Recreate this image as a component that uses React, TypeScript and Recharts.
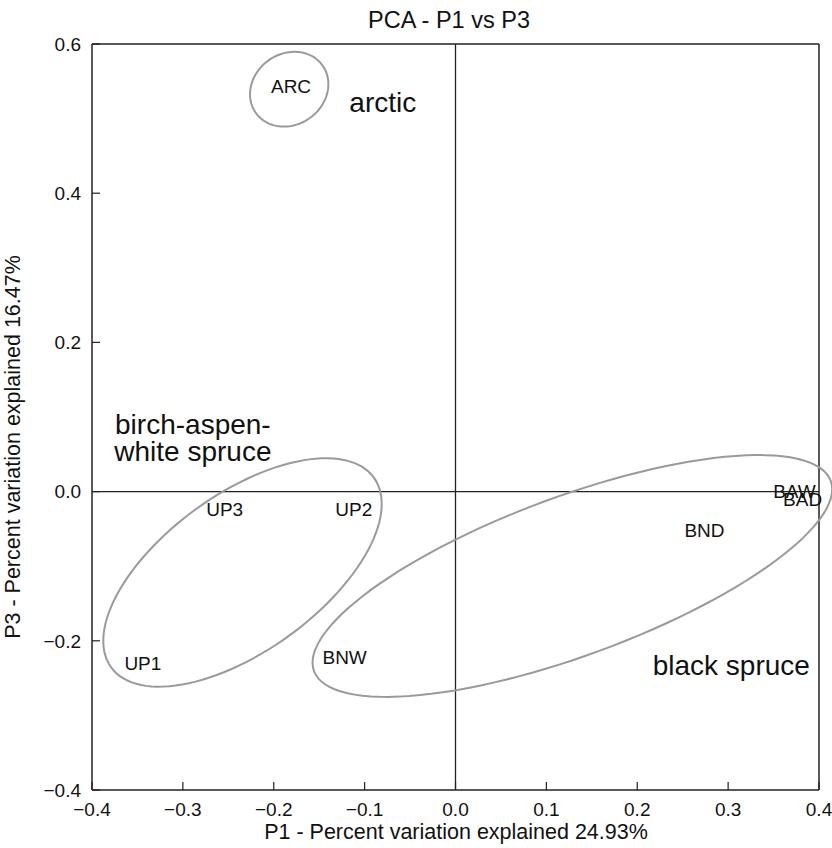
import React from 'react';
import { ScatterChart, Scatter, XAxis, YAxis, ReferenceLine } from 'recharts';

const FONT = '"Liberation Sans", Arial, Helvetica, sans-serif';

// PCA scores (site labels are drawn at their score positions)
const siteNames = ['ARC', 'UP1', 'UP2', 'UP3', 'BNW', 'BND', 'BAW', 'BAD'];
const p1Scores = [-0.181, -0.344, -0.112, -0.254, -0.122, 0.274, 0.373, 0.382];
const p3Scores = [0.543, -0.23, -0.024, -0.024, -0.222, -0.052, 0.001, -0.01];

// group annotations
const groupLabelLines = [['arctic'], ['birch-aspen-', 'white spruce'], ['black spruce']];
const groupLabelX = [-0.08, -0.289, 0.3035];
const groupLabelY = [0.522, 0.091, -0.233];

// group ellipses: centre and two conjugate semi-axis vectors (data units)
const ellipseCx = [-0.183, -0.2344, 0.1286];
const ellipseCy = [0.5394, -0.1084, -0.1131];
const ellipseAx = [0.0431, 0.1446, 0.2843];
const ellipseAy = [0.0068, 0.1271, 0.1275];
const ellipseBx = [0, 0.0506, 0.0303];
const ellipseBy = [-0.0497, -0.0854, -0.1001];

const xTicks = [-0.4, -0.3, -0.2, -0.1, 0, 0.1, 0.2, 0.3, 0.4];
const yTicks = [-0.4, -0.2, 0, 0.2, 0.4, 0.6];

const titleText = 'PCA - P1 vs P3';
const xTitle = 'P1 - Percent variation explained 24.93%';
const yTitle = 'P3 - Percent variation explained 16.47%';

const siteData = siteNames.map((name, i) => ({ name, x: p1Scores[i], y: p3Scores[i] }));
const groupData = groupLabelLines.map((lines, i) => ({ lines, x: groupLabelX[i], y: groupLabelY[i] }));

const SEGMENTS = 120;
const ellipseData = ellipseCx.map((cx, i) =>
  Array.from({ length: SEGMENTS + 1 }, (_, k) => {
    const t = (2 * Math.PI * k) / SEGMENTS;
    return {
      x: cx + ellipseAx[i] * Math.cos(t) + ellipseBx[i] * Math.sin(t),
      y: ellipseCy[i] + ellipseAy[i] * Math.cos(t) + ellipseBy[i] * Math.sin(t),
    };
  })
);

const fmt = (v: number) => (v < 0 ? '\u2212' : '') + Math.abs(v).toFixed(1);

const SiteLabel = (props: any) => (
  <text
    x={props.cx}
    y={props.cy}
    dy="0.35em"
    textAnchor="middle"
    fontSize={19}
    fontFamily={FONT}
    fill="#111"
  >
    {props.payload.name}
  </text>
);

const GroupLabel = (props: any) => (
  <text x={props.cx} y={props.cy} textAnchor="middle" fontSize={28} fontFamily={FONT} fill="#111">
    {props.payload.lines.map((l: string, i: number) => (
      <tspan key={i} x={props.cx} dy={i === 0 ? '0.35em' : '0.99em'}>
        {l}
      </tspan>
    ))}
  </text>
);

const NoShape = () => <g />;

export default function App() {
  const tickStyle = { fontSize: 19, fill: '#111', fontFamily: FONT };
  return (
    <div style={{ position: 'absolute', left: 0, top: 0, width: 832, height: 848, background: '#fff' }}>
      <style>{`.recharts-wrapper g[clip-path]{clip-path:none !important;}`}</style>
      <ScatterChart width={832} height={848} margin={{ top: 43, right: 12, bottom: 28, left: 42 }}>
        <XAxis
          type="number"
          dataKey="x"
          domain={[-0.4, 0.4]}
          allowDataOverflow
          ticks={xTicks}
          tickFormatter={fmt}
          height={30}
          tickSize={-8}
          tickMargin={21}
          tick={tickStyle}
          axisLine={{ stroke: '#222', strokeWidth: 1.5 }}
          tickLine={{ stroke: '#222', strokeWidth: 1.2 }}
          interval={0}
        />
        <XAxis
          xAxisId="top"
          orientation="top"
          type="number"
          domain={[-0.4, 0.4]}
          allowDataOverflow
          ticks={xTicks}
          height={1}
          tickSize={-8}
          tick={false}
          axisLine={{ stroke: '#222', strokeWidth: 1.5 }}
          tickLine={{ stroke: '#222', strokeWidth: 1.2 }}
          interval={0}
        />
        <YAxis
          type="number"
          dataKey="y"
          domain={[-0.4, 0.6]}
          allowDataOverflow
          ticks={yTicks}
          tickFormatter={fmt}
          width={50}
          tickSize={-8}
          tickMargin={19}
          tick={tickStyle}
          axisLine={{ stroke: '#222', strokeWidth: 1.5 }}
          tickLine={{ stroke: '#222', strokeWidth: 1.2 }}
          interval={0}
        />
        <YAxis
          yAxisId="right"
          orientation="right"
          type="number"
          domain={[-0.4, 0.6]}
          allowDataOverflow
          ticks={yTicks}
          width={1}
          tickSize={-8}
          tick={false}
          axisLine={{ stroke: '#222', strokeWidth: 1.5 }}
          tickLine={{ stroke: '#222', strokeWidth: 1.2 }}
          interval={0}
        />
        <ReferenceLine x={0} stroke="#222" strokeWidth={1.3} />
        <ReferenceLine y={0} stroke="#222" strokeWidth={1.3} />
        {ellipseData.map((d, i) => (
          <Scatter
            key={'e' + i}
            data={d}
            line={{ stroke: '#9a9a9a', strokeWidth: 2 }}
            lineType="joint"
            shape={NoShape}
            isAnimationActive={false}
          />
        ))}
        <Scatter data={siteData} shape={SiteLabel} isAnimationActive={false} />
        <Scatter data={groupData} shape={GroupLabel} isAnimationActive={false} />
      </ScatterChart>
      <svg
        width={832}
        height={848}
        style={{ position: 'absolute', left: 0, top: 0, pointerEvents: 'none' }}
      >
        <text x={449} y={28} textAnchor="middle" fontSize={23.5} fontFamily={FONT} fill="#111">
          {titleText}
        </text>
        <text x={456} y={839} textAnchor="middle" fontSize={21.5} fontFamily={FONT} fill="#111">
          {xTitle}
        </text>
        <text
          x={0}
          y={0}
          transform="translate(20,447) rotate(-90)"
          textAnchor="middle"
          fontSize={21.5}
          fontFamily={FONT}
          fill="#111"
        >
          {yTitle}
        </text>
      </svg>
    </div>
  );
}
